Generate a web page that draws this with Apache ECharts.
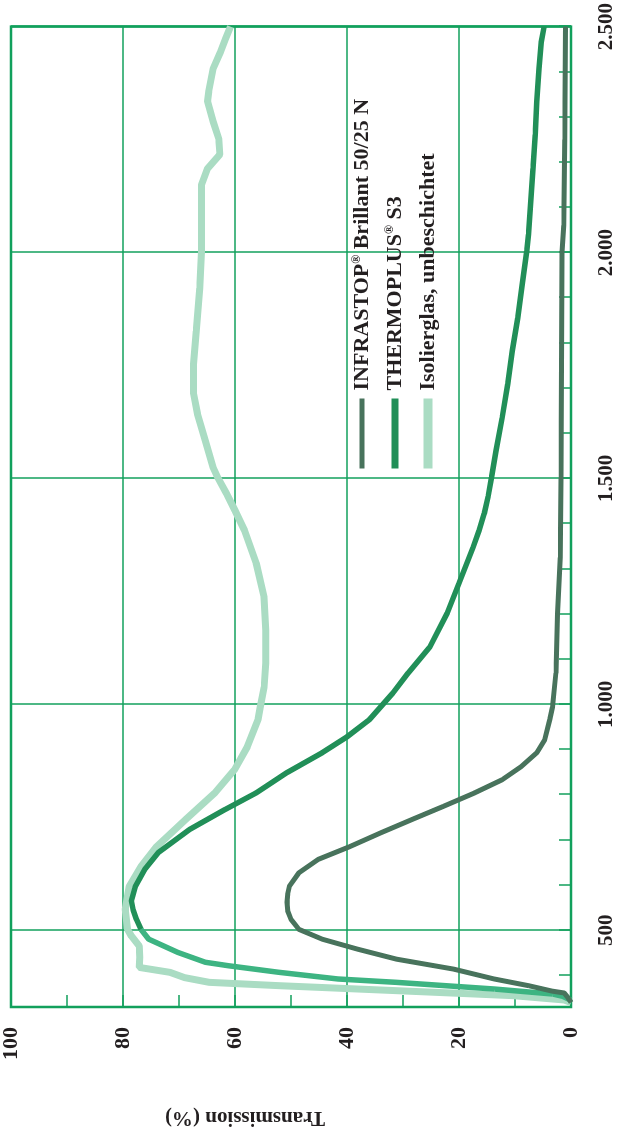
<!DOCTYPE html>
<html><head><meta charset="utf-8">
<script src="https://cdn.jsdelivr.net/npm/echarts@6/dist/echarts.min.js"></script>
<style>
html,body{margin:0;padding:0;overflow:hidden;background:#fff;width:619px;height:1132px;}
#chart{position:absolute;left:0;top:0;width:1132px;height:619px;transform-origin:0 0;transform:translate(0,1132px) rotate(-90deg);}
</style></head><body><div id="chart"></div>
<script>
// ---- data ----
const seriesNames = ['INFRASTOP® Brillant 50/25 N', 'THERMOPLUS® S3', 'Isolierglas, unbeschichtet'];

const infrastopWl = [340, 350, 361, 365, 377, 392, 414, 436, 458, 480, 502, 524, 543, 562, 580, 597, 627, 657, 685, 716, 745, 774, 804, 833, 862, 893, 921, 966, 994, 1069, 1200, 1325, 1500, 1750, 2000, 2060, 2250, 2500];
const infrastopT  = [0, 0.5, 1.2, 3.3, 7.5, 13.7, 21, 31.2, 38.1, 44.4, 48.6, 50, 50.6, 50.7, 50.6, 50.3, 48.6, 45.1, 39.5, 33.9, 28.4, 22.8, 17.2, 12.3, 8.9, 6.1, 4.7, 3.8, 3.3, 2.7, 2.4, 1.9, 1.8, 1.7, 1.6, 1.3, 1.1, 1.0];

const thermoWl = [345, 353.7, 358.8, 369.8, 384.6, 392, 406.7, 421.2, 429, 450.8, 480, 502, 524, 545, 565, 597, 635, 672, 723, 767, 804, 849, 893, 928, 966, 1025, 1069, 1127, 1202, 1268, 1347, 1385, 1422, 1460, 1502, 1561, 1634, 1709, 1782, 1855, 1930, 2003, 2040, 2113, 2186, 2261, 2334, 2407, 2466, 2500];
const thermoT  = [0, 1.5, 3.3, 13.7, 31.2, 41.6, 52.1, 61.1, 65.3, 70.2, 75.4, 76.8, 77.6, 78.2, 78.5, 77.8, 76.1, 73.7, 68.1, 61.8, 56.2, 50.7, 44.4, 40, 36, 31.8, 29.1, 25.2, 22.1, 20, 17.5, 16.4, 15.5, 14.8, 14.2, 13.4, 12.3, 11.3, 10.5, 9.5, 8.7, 7.9, 7.6, 7.2, 6.8, 6.4, 6.1, 5.7, 5.3, 4.8];
const thermoColourSplit = 502; // below this wavelength the curve is printed in a lighter green

const isoWl = [340, 345.5, 355, 362.5, 369.8, 377.2, 384.6, 395, 406.7, 417.6, 440, 465, 487, 502, 546, 597, 641, 685, 745, 804, 855, 906, 966, 994, 1038, 1091, 1164, 1237, 1312, 1385, 1429, 1466, 1500, 1524, 1583, 1643, 1687, 1753, 1826, 1921, 2003, 2113, 2150, 2186, 2217, 2252, 2290, 2334, 2356, 2407, 2444, 2473, 2500];
const isoT  = [0, 1.2, 10.2, 24.2, 38.1, 52.1, 64.6, 69, 71.6, 77.1, 77, 77.1, 78.5, 79.2, 79.6, 78.9, 76.8, 74, 68.8, 63.6, 60.1, 57.8, 55.9, 55.5, 54.8, 54.5, 54.5, 54.8, 56.2, 58.3, 60, 61.5, 63, 63.9, 65.3, 66.7, 67.4, 67.4, 66.9, 66.3, 66, 66, 66, 64.9, 62.7, 62.9, 63.9, 64.9, 64.7, 63.9, 62.6, 61.7, 60.8];

const wlLabelValues = [500, 1000, 1500, 2000, 2500];
const wlMinorTicks = [400, 500, 600, 700, 800, 900, 1000, 1100, 1200, 1300, 1400, 1500, 1600, 1700, 1800, 1900, 2000, 2100, 2200, 2300, 2400, 2500];

// ---- styles ----
const gridColor = '#12a05c';
const textColor = '#231f20';
const serif = "'Liberation Serif', 'DejaVu Serif', serif";
const cInfra = '#48735c';
const cThermo = '#218f58';
const cThermoLow = '#3db482';
const cIso = '#aadcc3';

function zip(a, b) { return a.map((v, i) => [v, b[i]]); }
function fmtWl(v) { return v >= 1000 ? Math.floor(v / 1000) + '.' + String(v % 1000).padStart(3, '0') : String(v); }
const thermoAll = zip(thermoWl, thermoT);
const thermoLow = thermoAll.filter(p => p[0] <= thermoColourSplit);
const thermoHigh = thermoAll.filter(p => p[0] >= thermoColourSplit);

const chart = echarts.init(document.getElementById('chart'), null, { renderer: 'canvas' });
chart.setOption({
  animation: false,
  backgroundColor: '#fff',
  grid: { left: 125, right: 24, top: 5, bottom: 48, show: true, borderColor: gridColor, borderWidth: 2.5, backgroundColor: 'transparent' },
  xAxis: [
    { type: 'value', min: 330, max: 2500, position: 'bottom',
      axisLine: { show: false, onZero: false },
      axisTick: { show: true, inside: true, length: 12, customValues: wlMinorTicks, lineStyle: { color: gridColor, width: 1.5 } },
      axisLabel: { customValues: wlLabelValues, formatter: fmtWl, margin: 25, fontSize: 21, fontWeight: 'bold', fontFamily: serif, color: textColor },
      splitLine: { show: false } },
    { type: 'value', min: 330, max: 2500, position: 'bottom',
      axisLine: { show: false, onZero: false },
      axisTick: { show: false, customValues: wlLabelValues },
      axisLabel: { show: false },
      splitLine: { show: true, lineStyle: { color: gridColor, width: 1.5 } } }
  ],
  yAxis: [
    { type: 'value', min: 0, max: 100, interval: 20, position: 'left',
      axisLine: { show: false, onZero: false },
      axisTick: { show: false },
      axisLabel: { margin: 20, fontSize: 22, fontWeight: 'bold', fontFamily: serif, color: textColor },
      splitLine: { show: true, lineStyle: { color: gridColor, width: 1.5 } } },
    { type: 'value', min: 0, max: 100, interval: 10, position: 'left',
      axisLine: { show: false, onZero: false },
      axisTick: { show: true, inside: true, length: 12, lineStyle: { color: gridColor, width: 1.5 } },
      axisLabel: { show: false },
      splitLine: { show: false } }
  ],
  legend: {
    orient: 'vertical', left: 659, top: 351, padding: 0, itemWidth: 70, itemHeight: 10, itemGap: 11,
    selectedMode: false,
    itemStyle: { opacity: 0 },
    textStyle: { fontFamily: serif, fontWeight: 'bold', fontSize: 22, color: textColor, padding: [0, 0, 0, 3],
      rich: { s: { fontFamily: serif, fontSize: 12, fontWeight: 'bold', color: textColor, verticalAlign: 'top' } } },
    formatter: function (name) { return name.replace('®', '{s|®}'); },
    data: [
      { name: seriesNames[0], itemStyle: { opacity: 0 }, lineStyle: { width: 5, color: cInfra } },
      { name: seriesNames[1], itemStyle: { opacity: 0 }, lineStyle: { width: 7, color: cThermo } },
      { name: seriesNames[2], itemStyle: { opacity: 0 }, lineStyle: { width: 9, color: cIso } }
    ]
  },
  graphic: [{ type: 'text', x: 15, y: 245, rotation: Math.PI / 2,
    style: { text: 'Transmission (%)', fill: textColor, font: 'bold 21px ' + serif, align: 'center', verticalAlign: 'middle' } }],
  series: [
    { name: seriesNames[2], type: 'line', symbol: 'none', data: zip(isoWl, isoT), color: cIso, lineStyle: { width: 7, color: cIso } },
    { name: seriesNames[1], type: 'line', symbol: 'none', data: thermoHigh, color: cThermo, lineStyle: { width: 5.5, color: cThermo } },
    { name: seriesNames[1], type: 'line', symbol: 'none', data: thermoLow, color: cThermoLow, lineStyle: { width: 5.5, color: cThermoLow } },
    { name: seriesNames[0], type: 'line', symbol: 'none', data: zip(infrastopWl, infrastopT), color: cInfra, lineStyle: { width: 5, color: cInfra } }
  ]
});
</script></body></html>
